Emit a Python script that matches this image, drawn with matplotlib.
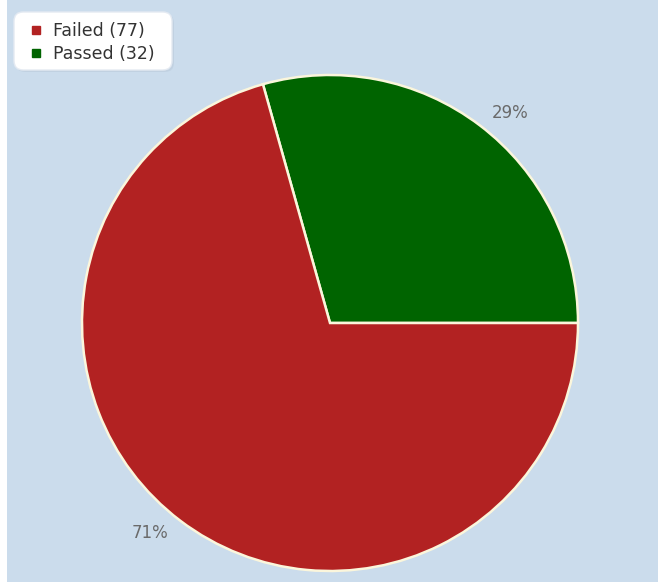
import numpy as np
import matplotlib.pyplot as plt
from matplotlib.patches import Rectangle, FancyBboxPatch
from matplotlib.lines import Line2D

# Datos
labels = ['Failed', 'Passed']
counts = [77, 32]
colors = ['#b22222', '#006400']

W, H = 658, 587
fig = plt.figure(figsize=(W / 100, H / 100), dpi=100, facecolor='white')

# Fondo azul claro (con borde blanco a la izquierda y abajo)
fig.patches.append(Rectangle((7 / W, 5 / H), 1 - 7 / W, 1 - 5 / H,
                             transform=fig.transFigure, facecolor='#cbdcec',
                             edgecolor='none', zorder=-10))

cx, cy, r = 330, 587 - 323, 248
ax = fig.add_axes([(cx - r) / W, (cy - r) / H, 2 * r / W, 2 * r / H])
ax.set_facecolor('none')

# Passed empieza a las 3 en punto, en sentido antihorario
wedges, texts, autotexts = ax.pie(
    counts[::-1], colors=colors[::-1], startangle=0, counterclock=True,
    autopct='%1.0f%%', pctdistance=1.11, radius=1,
    wedgeprops=dict(edgecolor='#fbf6dc', linewidth=1.8),
    textprops=dict(color='#6a6a6a', fontsize=12))
# etiquetas un poco giradas en sentido horario, como en el original
for w, t in zip(wedges, autotexts):
    ang = np.deg2rad((w.theta1 + w.theta2) / 2 - 3.5)
    t.set_position((1.115 * np.cos(ang), 1.115 * np.sin(ang)))
ax.set_xlim(-1, 1)
ax.set_ylim(-1, 1)
ax.set_aspect('equal')
ax.axis('off')

# Caja de la leyenda (esquinas redondeadas, con una sombra suave)
shadow = FancyBboxPatch((16 / W, 1 - 72 / H), 158 / W, 58 / H,
                        boxstyle='round,pad=0,rounding_size=0.014',
                        transform=fig.transFigure, facecolor='#b9c8d8',
                        edgecolor='none', alpha=0.5, zorder=4,
                        mutation_aspect=W / H)
fig.patches.append(shadow)
box = FancyBboxPatch((14 / W, 1 - 70 / H), 158 / W, 58 / H,
                     boxstyle='round,pad=0,rounding_size=0.014',
                     transform=fig.transFigure, facecolor='white',
                     edgecolor='#e4eaf2', linewidth=1, zorder=5,
                     mutation_aspect=W / H)
fig.patches.append(box)

handles = [Line2D([], [], marker='s', linestyle='none', markersize=5.5,
                  markerfacecolor=c, markeredgecolor=c) for c in colors]
leg = fig.legend(handles, [f'{l} ({n})' for l, n in zip(labels, counts)],
                 loc='upper left', bbox_to_anchor=(26 / W, 1 - 19 / H),
                 frameon=False, fontsize=12.5,
                 handlelength=0.7, handletextpad=0.65, labelspacing=0.28,
                 borderpad=0.2, borderaxespad=0, labelcolor='#333333')
leg.set_zorder(10)

fig.savefig('out.png', dpi=100, facecolor='white')
